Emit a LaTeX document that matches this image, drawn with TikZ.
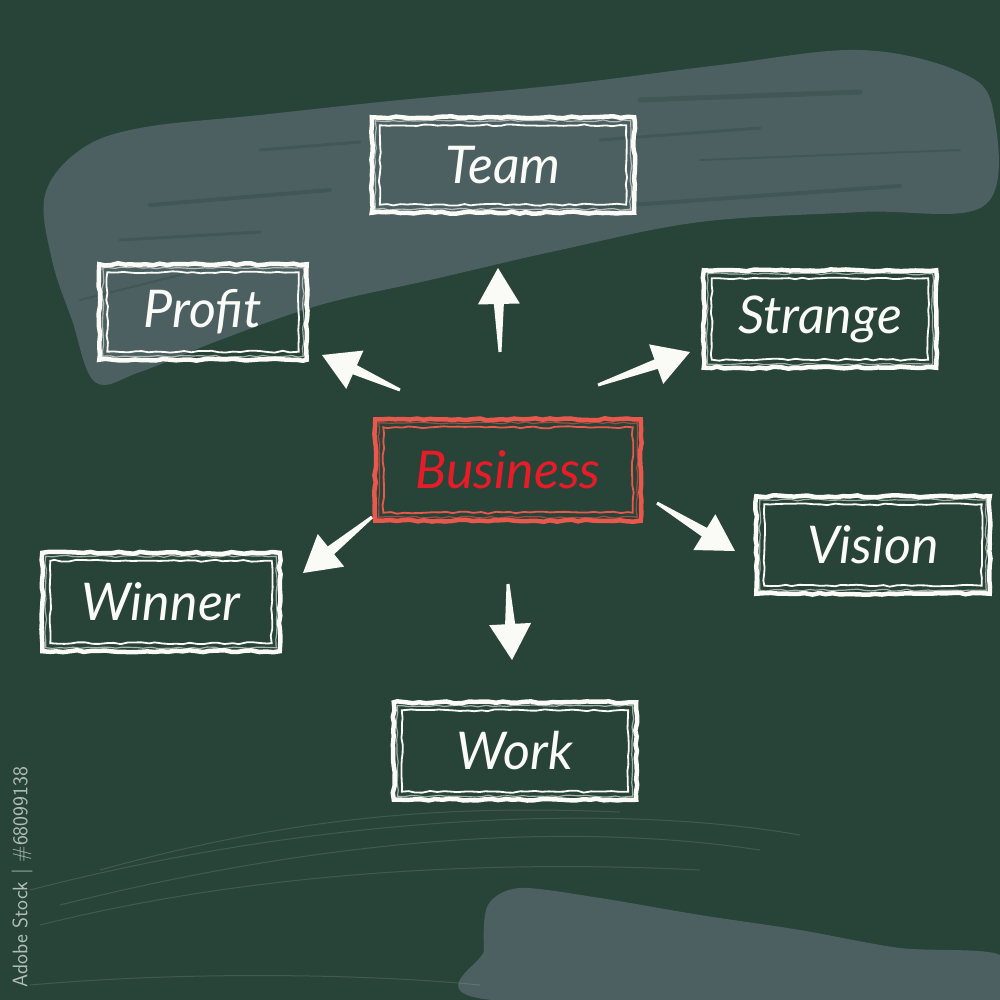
\documentclass[tikz,border=0pt]{standalone}
\usepackage{fontspec}
\setmainfont{Lato}
\usetikzlibrary{calc,decorations.pathmorphing}
\definecolor{board}{RGB}{40,68,56}
\definecolor{smear}{RGB}{76,96,98}
\definecolor{chalk}{RGB}{250,250,246}
\definecolor{redbox}{RGB}{233,88,76}
\definecolor{redtext}{RGB}{232,28,40}
\definecolor{wmark}{RGB}{200,212,206}
\tikzset{
  hand/.style={font=\fontsize{52}{58}\selectfont\itshape, inner sep=0pt},
  boxnode/.style n args={2}{hand, minimum width=#1, minimum height=#2},
  rough/.style={decorate, decoration={random steps, segment length=7pt, amplitude=1pt}},
}
\newcommand\chalkframe[2]{%
  \draw[#2, line width=4.5pt, rough] (#1.north west) rectangle (#1.south east);
  \draw[#2, line width=1.2pt, rough, opacity=0.6] ([shift={(3.5pt,-3.5pt)}]#1.north west) rectangle ([shift={(-3.5pt,3.5pt)}]#1.south east);
  \draw[#2, line width=1.8pt, rough] ([shift={(8pt,-8pt)}]#1.north west) rectangle ([shift={(-8pt,8pt)}]#1.south east);
}
\newcommand\chalkarrow[2]{%
  \coordinate (hb) at ($(#2)!36pt!(#1)$);
  \fill[chalk] ($(#1)!1.5pt!90:(#2)$) -- ($(hb)!5pt!90:(#2)$) -- ($(hb)!21pt!90:(#2)$) -- (#2)
     -- ($(hb)!21pt!-90:(#2)$) -- ($(hb)!5pt!-90:(#2)$) -- ($(#1)!1.5pt!-90:(#2)$) -- cycle;
}
\begin{document}
\begin{tikzpicture}[x=1pt, y=-1pt]
\pgfmathsetseed{7}
\useasboundingbox (0,0) rectangle (1000,1000);
\fill[board] (0,0) rectangle (1000,1000);

% chalk smears
\fill[smear] plot[smooth cycle, tension=0.6] coordinates {(45,195) (80,150) (140,128) (260,115) (400,100) (560,85) (720,65) (860,50) (960,72) (993,110) (985,205) (860,212) (700,222) (560,250) (430,280) (320,305) (220,340) (140,372) (95,382) (72,320) (52,260)};
\begin{scope}[board, opacity=0.3, line cap=round, rough]
  \draw[line width=4pt] (150,205) -- (330,190);
  \draw[line width=3pt] (120,240) -- (260,232);
  \draw[line width=5pt] (640,100) -- (860,92);
  \draw[line width=3pt] (600,140) -- (760,128);
  \draw[line width=4pt] (560,210) -- (900,186);
  \draw[line width=2pt] (700,160) -- (960,150);
  \draw[line width=3pt] (260,150) -- (360,142);
  \draw[line width=2pt] (80,300) -- (200,270);
\end{scope}
\fill[smear] plot[smooth cycle, tension=0.5] coordinates {(488,905) (520,888) (600,898) (700,915) (800,930) (900,948) (1000,955) (1000,1000) (492,1000) (484,950)};
\begin{scope}[chalk, opacity=0.12, line width=1pt]
  \draw (30,890) .. controls (300,820) and (600,800) .. (800,835);
  \draw (60,905) .. controls (320,840) and (560,820) .. (760,850);
  \draw (40,925) .. controls (260,870) and (500,860) .. (700,870);
  \draw (100,870) .. controls (300,815) and (450,805) .. (620,812);
  \draw (30,985) .. controls (200,970) and (380,975) .. (480,985);
\end{scope}

\node[font=\sffamily\fontsize{21}{23}\selectfont, text=wmark, rotate=90, opacity=0.85] (id) at (22,877) {Adobe Stock | \#68099138};

% boxes
\node[boxnode={262pt}{95pt}, text=chalk] (team) at (503,165) {Team};
\node[boxnode={207pt}{95pt}, text=chalk] (profit) at (203,312) {Profit};
\node[boxnode={232pt}{97pt}, text=chalk] (strange) at (820,319) {Strange};
\node[boxnode={265pt}{101pt}, text=redtext] (business) at (508,470) {Business};
\node[boxnode={233pt}{97pt}, text=chalk] (vision) at (873,545) {Vision};
\node[boxnode={237pt}{98pt}, text=chalk] (winner) at (161,602) {Winner};
\node[boxnode={242pt}{97pt}, text=chalk] (work) at (515,751) {Work};
\chalkframe{team}{chalk}
\chalkframe{profit}{chalk}
\chalkframe{strange}{chalk}
\chalkframe{business}{redbox}
\chalkframe{vision}{chalk}
\chalkframe{winner}{chalk}
\chalkframe{work}{chalk}

% arrows
\coordinate (upT) at (500,352); \coordinate (upH) at (498,268);
\coordinate (ulT) at (400,390); \coordinate (ulH) at (322,355);
\coordinate (urT) at (598,385); \coordinate (urH) at (690,352);
\coordinate (llT) at (372,517); \coordinate (llH) at (303,573);
\coordinate (lrT) at (657,503); \coordinate (lrH) at (735,551);
\coordinate (dnT) at (508,584); \coordinate (dnH) at (512,660);
\chalkarrow{upT}{upH}
\chalkarrow{ulT}{ulH}
\chalkarrow{urT}{urH}
\chalkarrow{llT}{llH}
\chalkarrow{lrT}{lrH}
\chalkarrow{dnT}{dnH}
\end{tikzpicture}
\end{document}
